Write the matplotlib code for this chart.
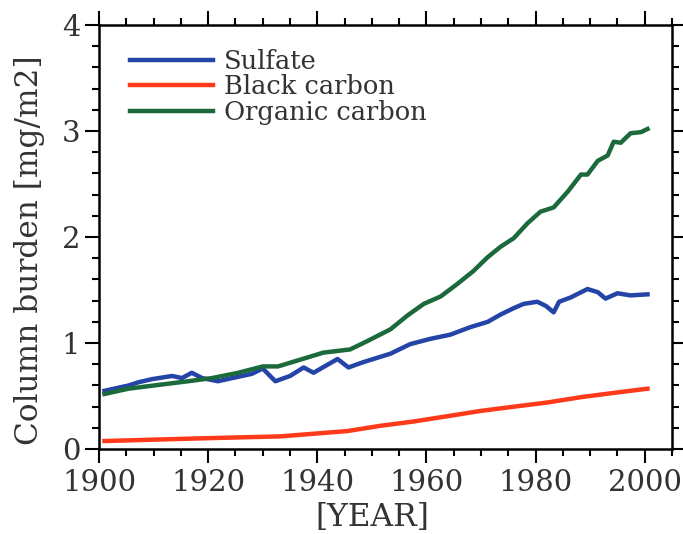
import matplotlib
matplotlib.use("Agg")
import matplotlib.pyplot as plt
from matplotlib.ticker import MultipleLocator

plt.rcParams['font.family'] = ['DejaVu Serif']

sulfate_years = [1901, 1905.4, 1907.2, 1909.7, 1913.4, 1915.2, 1917, 1918.9, 1921.8, 1924.4,
                 1926.2, 1928, 1930, 1932.3, 1935, 1937.5, 1939.3, 1943.7, 1945.7, 1948.4,
                 1953.4, 1957, 1960.7, 1964.4, 1968, 1971.2, 1973.6, 1976, 1977.8, 1980.3,
                 1981.9, 1983.3, 1984.3, 1986.4, 1989.5, 1991.4, 1992.8, 1995, 1997.4, 2000.5]
sulfate = [0.55, 0.60, 0.63, 0.66, 0.69, 0.67, 0.72, 0.67, 0.64, 0.67,
           0.69, 0.71, 0.76, 0.64, 0.69, 0.77, 0.72, 0.85, 0.77, 0.82,
           0.90, 0.99, 1.04, 1.08, 1.15, 1.20, 1.27, 1.33, 1.37, 1.39,
           1.35, 1.29, 1.39, 1.43, 1.51, 1.48, 1.42, 1.47, 1.45, 1.46]

bc_years = [1901, 1917.6, 1933.2, 1945.5, 1951.6, 1957.6, 1963.8, 1969.9, 1976, 1982.2,
            1988.3, 1994.3, 2000.5]
black_carbon = [0.076, 0.10, 0.12, 0.17, 0.22, 0.26, 0.31, 0.36, 0.40, 0.44,
                0.49, 0.53, 0.57]

oc_years = [1901, 1905.4, 1911.6, 1916.3, 1920.7, 1925.5, 1930, 1932.8, 1936, 1941.1,
            1946, 1949.2, 1953.4, 1956.5, 1959.5, 1962.6, 1965.7, 1968.6, 1971.2, 1973.6,
            1976, 1978.5, 1980.9, 1983.3, 1985.9, 1988.3, 1989.5, 1991.4, 1993.2, 1994.3,
            1995.6, 1997.4, 1999.3, 2000.5]
organic_carbon = [0.52, 0.57, 0.61, 0.64, 0.67, 0.72, 0.78, 0.78, 0.83, 0.91,
                  0.94, 1.02, 1.13, 1.26, 1.37, 1.44, 1.56, 1.68, 1.81, 1.91,
                  1.99, 2.13, 2.24, 2.28, 2.43, 2.59, 2.59, 2.72, 2.77, 2.90,
                  2.89, 2.98, 2.99, 3.02]

labels = ["Sulfate", "Black carbon", "Organic carbon"]
colors = ["#2444a8", "#ff3a1a", "#1c6a3c"]

fig = plt.figure(figsize=(6.83, 5.34), dpi=100)
ax = fig.add_axes([0.145, 0.159, 0.839, 0.794])

ax.plot(sulfate_years, sulfate, color=colors[0], lw=3.2, label=labels[0])
ax.plot(bc_years, black_carbon, color=colors[1], lw=3.2, label=labels[1])
ax.plot(oc_years, organic_carbon, color=colors[2], lw=3.2, label=labels[2])

ax.set_xlim(1900, 2005)
ax.set_ylim(0, 4)
ax.xaxis.set_major_locator(MultipleLocator(20))
ax.xaxis.set_minor_locator(MultipleLocator(5))
ax.yaxis.set_major_locator(MultipleLocator(1))
ax.yaxis.set_minor_locator(MultipleLocator(0.2))
ax.tick_params(which='both', direction='out', top=True, right=True, width=1.5,
               colors='black', labelcolor='#333333', labelsize=21)
ax.tick_params(which='major', length=10)
ax.tick_params(which='minor', length=5)
ax.tick_params(axis='x', pad=4)
for s in ax.spines.values():
    s.set_linewidth(1.8)

ax.set_ylabel("Column burden [mg/m2]", fontsize=22.5, color='#333333')
ax.yaxis.set_label_coords(-0.094, 0.47)
ax.set_xlabel("[YEAR]", fontsize=22.5, color='#333333')
ax.xaxis.set_label_coords((1950 - 1900) / 105, -0.125)

leg = ax.legend(loc='upper left', frameon=False, fontsize=18.5, handlelength=3.25,
                handletextpad=0.42, labelspacing=0.03, bbox_to_anchor=(0.013, 0.999))
for t in leg.get_texts():
    t.set_color('#333333')

fig.savefig("out.png", dpi=100)
